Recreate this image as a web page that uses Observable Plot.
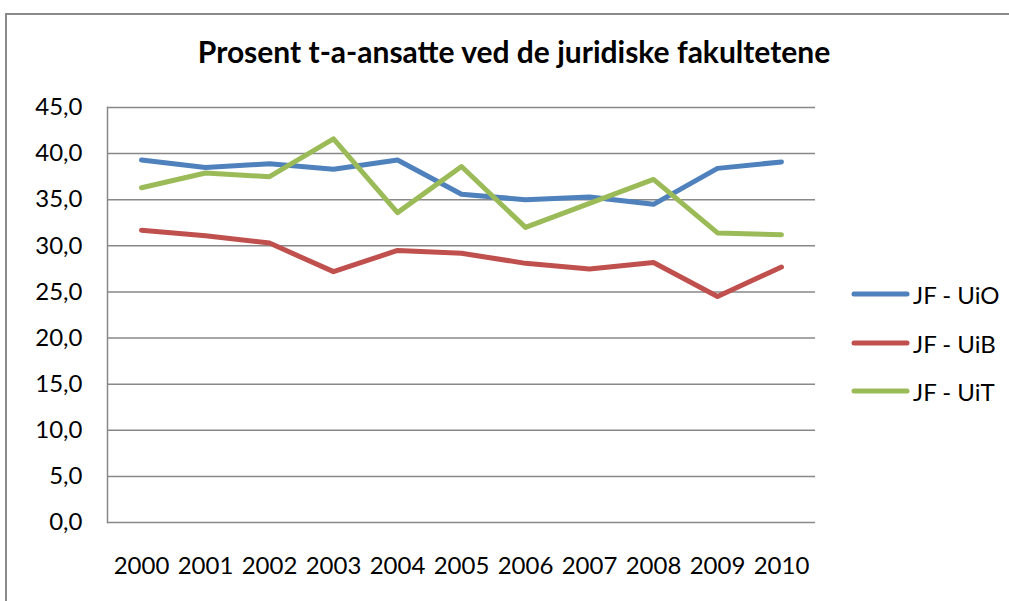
<!DOCTYPE html>
<html>
<head>
<meta charset="utf-8">
<script src="https://cdn.jsdelivr.net/npm/d3@7"></script>
<script src="https://cdn.jsdelivr.net/npm/@observablehq/plot@0.6"></script>
<style>
  html, body { margin: 0; padding: 0; background: #fff; }
  #wrap { position: relative; width: 1009px; height: 601px; overflow: hidden; font-family: Lato, "Open Sans", sans-serif; }
  #border { position: absolute; left: 5px; top: 13px; width: 1020px; height: 620px; border-left: 2px solid #8a8a8a; border-top: 2px solid #8a8a8a; }
  #title { position: absolute; left: 19px; width: 990px; top: 33px; text-align: center; font-weight: bold; font-size: 30px; color: #000; }
  #chart { position: absolute; left: 0; top: 0; }
  #legend { position: absolute; left: 851px; top: 0; }
  .item { position: absolute; left: 0; display: flex; align-items: center; white-space: nowrap; font-size: 24px; color: #000; }
  .item svg { display: block; margin-right: 3px; }
</style>
</head>
<body>
<div id="wrap">
  <div id="border"></div>
  <div id="chart"></div>
  <div id="title">Prosent t-a-ansatte ved de juridiske fakultetene</div>
  <div id="legend"></div>
</div>
<script>
const years = ["2000","2001","2002","2003","2004","2005","2006","2007","2008","2009","2010"];
const seriesNames = ["JF - UiO", "JF - UiB", "JF - UiT"];
const seriesColors = ["#4F81BD", "#C0504D", "#9BBB59"];
const uio = [39.3, 38.5, 38.9, 38.3, 39.3, 35.6, 35.0, 35.3, 34.5, 38.4, 39.1];
const uib = [31.7, 31.1, 30.3, 27.2, 29.5, 29.2, 28.1, 27.5, 28.2, 24.5, 27.7];
const uit = [36.3, 37.9, 37.5, 41.6, 33.6, 38.6, 32.0, 34.6, 37.2, 31.4, 31.2];
const yTicks = [0, 5, 10, 15, 20, 25, 30, 35, 40, 45];

const seriesValues = [uio, uib, uit];
const rows = [];
seriesNames.forEach((name, si) => {
  years.forEach((yr, i) => rows.push({series: name, year: yr, value: seriesValues[si][i]}));
});

const fmt = d => d.toFixed(1).replace(".", ",");

const plot = Plot.plot({
  width: 1009,
  height: 601,
  marginLeft: 107,
  marginRight: 194,
  marginTop: 107,
  marginBottom: 79,
  style: {fontFamily: "Lato, 'Open Sans', sans-serif", fontSize: "24px", color: "#000", background: "transparent"},
  x: {type: "point", domain: years, padding: 0.5, label: null},
  y: {domain: [0, 45], label: null},
  color: {domain: seriesNames, range: seriesColors},
  marks: [
    Plot.ruleY(yTicks, {stroke: "#888888", strokeWidth: 1.5, strokeOpacity: 1}),
    Plot.frame({anchor: "left", stroke: "#888888", strokeWidth: 1.5}),
    Plot.axisY({ticks: yTicks, tickSize: 0, tickPadding: 25, tickFormat: fmt, label: null, fontSize: 24}),
    Plot.axisX({tickSize: 0, tickPadding: 34, label: null, fontSize: 24}),
    Plot.line(rows, {x: "year", y: "value", z: "series", stroke: "series", strokeWidth: 5, strokeLinecap: "round", strokeLinejoin: "round"})
  ]
});
document.getElementById("chart").appendChild(plot);

const legend = document.getElementById("legend");
const legendTops = [294, 343, 391];
seriesNames.forEach((name, i) => {
  const div = document.createElement("div");
  div.className = "item";
  div.style.top = (legendTops[i] - 15) + "px";
  div.style.height = "30px";
  div.innerHTML = `<svg width="59" height="10"><line x1="3" y1="5" x2="56" y2="5" stroke="${seriesColors[i]}" stroke-width="5" stroke-linecap="round"/></svg><span>${name}</span>`;
  legend.appendChild(div);
});
</script>
</body>
</html>
